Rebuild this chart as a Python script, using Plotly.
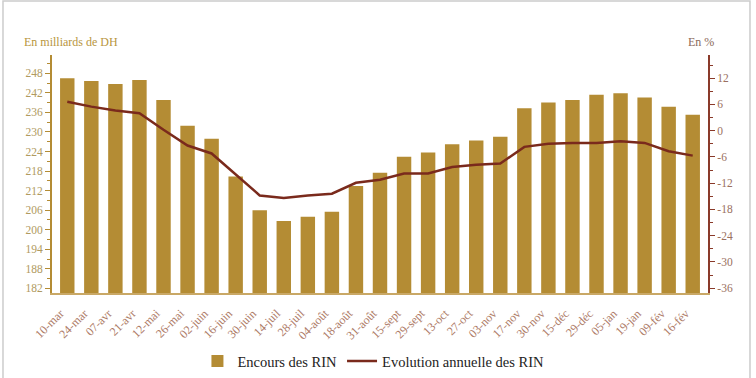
import plotly.graph_objects as go

categories = ["10-mar", "24-mar", "07-avr", "21-avr", "12-mai", "26-mai", "02-juin", "16-juin",
              "30-juin", "14-juil", "28-juil", "04-août", "18-août", "31-août", "15-sept",
              "29-sept", "13-oct", "27-oct", "03-nov", "17-nov", "30-nov", "15-déc", "29-déc",
              "05-jan", "19-jan", "09-fév", "16-fév"]

encours = [246.5, 245.6, 244.7, 245.9, 239.8, 231.9, 227.9, 216.3, 206.0, 202.7, 204.0, 205.5,
           213.4, 217.5, 222.4, 223.7, 226.2, 227.4, 228.5, 237.3, 239.0, 239.8, 241.4, 241.9,
           240.6, 237.7, 235.3]

evolution = [6.6, 5.5, 4.6, 4.0, 0.2, -3.4, -5.2, -10.0, -14.8, -15.4, -14.8, -14.4, -11.9,
             -11.2, -9.8, -9.8, -8.3, -7.8, -7.5, -3.7, -3.0, -2.8, -2.8, -2.4, -2.8, -4.7, -5.7]

left_ticks = list(range(182, 249, 6))
right_ticks = list(range(-36, 13, 6))

GOLD = "#b48c34"
LINE = "#7a2a1c"
FONT = "Liberation Serif"

fig = go.Figure()
fig.add_trace(go.Bar(x=categories, y=encours, name="Encours des RIN",
                     marker=dict(color=GOLD, line=dict(width=0))))
fig.add_trace(go.Scatter(x=categories, y=evolution, name="Evolution annuelle des RIN",
                         yaxis="y2", mode="lines", line=dict(color=LINE, width=2.5)))

fig.update_layout(
    width=756, height=378,
    margin=dict(l=52, r=48, t=55, b=85, autoexpand=False),
    paper_bgcolor="white", plot_bgcolor="white",
    font=dict(family=FONT, size=11, color="#333"),
    bargap=0.4,
    showlegend=True,
    legend=dict(orientation="h", x=0.49, xanchor="center", y=-0.286, yanchor="middle",
                font=dict(family=FONT, size=14.5, color="#222"), itemwidth=30,
                traceorder="normal"),
    xaxis=dict(type="category", range=[-0.635, 26.635], tickangle=-45, showline=True,
               linecolor="#c9a866", linewidth=1.5, ticks="", showgrid=False,
               ticklabelstandoff=7, ticklabelshift=-7,
               tickfont=dict(family=FONT, size=12, color="#ad7a66")),
    yaxis=dict(range=[180.6, 253.6], tickmode="array", tickvals=left_ticks,
               ticktext=[str(t) for t in left_ticks],
               showline=True, linecolor=GOLD, linewidth=2, ticks="outside",
               ticklen=5, tickcolor=GOLD, tickwidth=1.2, showgrid=False, zeroline=False,
               minor=dict(tickmode="linear", tick0=182, dtick=3, ticks="outside",
                          ticklen=3, tickcolor=GOLD),
               tickfont=dict(family=FONT, size=11.5, color="#b09a60")),
    yaxis2=dict(range=[-37.1, 17.3], overlaying="y", side="right", tickmode="array",
                tickvals=right_ticks, ticktext=[str(t) for t in right_ticks],
                showline=True, linecolor="#8a3a2a", linewidth=2, ticks="outside",
                ticklen=5, tickcolor="#8a3a2a", tickwidth=1.2, showgrid=False, zeroline=False,
                minor=dict(tickmode="linear", tick0=-36, dtick=3, ticks="outside",
                           ticklen=3, tickcolor="#8a3a2a"),
                tickfont=dict(family=FONT, size=11.5, color="#9a7060")),
    annotations=[
        dict(text="En milliards de DH", xref="paper", yref="paper", x=-0.0457, y=1.0546,
             xanchor="left", yanchor="middle", showarrow=False,
             font=dict(family=FONT, size=12, color="#b8963e")),
        dict(text="En %", xref="paper", yref="paper", x=0.99, y=1.0546,
             xanchor="center", yanchor="middle", showarrow=False,
             font=dict(family=FONT, size=12, color="#8a6a5a")),
    ],
    shapes=[
        dict(type="rect", xref="paper", yref="paper", x0=-0.0747, x1=1.064, y0=-0.40, y1=1.227,
             line=dict(color="#cccccc", width=1.5), layer="below"),
    ],
)

fig.write_html("out.html", config={"displayModeBar": False},
               post_script="document.body.style.margin='0';")
